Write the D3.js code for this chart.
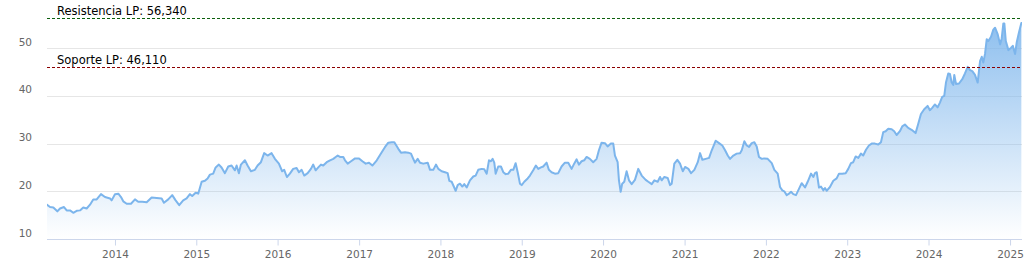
<!DOCTYPE html>
<html>
<head>
<meta charset="utf-8">
<script src="https://cdn.jsdelivr.net/npm/d3@7"></script>
<style>
  html, body { margin: 0; padding: 0; background: #fff; }
  svg { display: block; }
  text { font-family: "DejaVu Sans", Verdana, sans-serif; }
</style>
</head>
<body>
<div id="chart"></div>
<script>
// ---- Data (decimal years) ----
const years = [
  2013.161,2013.201,2013.242,2013.291,2013.324,2013.373,2013.406,2013.447,2013.487,2013.529,
  2013.570,2013.610,2013.652,2013.693,2013.733,2013.775,2013.828,2013.877,2013.939,2013.959,
  2014.000,2014.041,2014.074,2014.102,2014.144,2014.197,2014.246,2014.286,2014.336,2014.390,
  2014.451,2014.513,2014.574,2014.602,2014.655,2014.704,2014.746,2014.790,2014.839,2014.881,
  2014.922,2014.950,2014.992,2015.024,2015.066,2015.106,2015.139,2015.168,2015.208,2015.238,
  2015.278,2015.311,2015.352,2015.393,2015.434,2015.475,2015.496,2015.524,2015.549,2015.598,
  2015.631,2015.672,2015.721,2015.754,2015.795,2015.835,2015.877,2015.926,2015.967,2016.016,
  2016.056,2016.081,2016.114,2016.151,2016.191,2016.233,2016.262,2016.295,2016.327,2016.369,
  2016.409,2016.437,2016.467,2016.499,2016.532,2016.560,2016.602,2016.643,2016.683,2016.713,
  2016.737,2016.765,2016.806,2016.827,2016.860,2016.901,2016.950,2016.999,2017.040,2017.081,
  2017.122,2017.163,2017.217,2017.278,2017.319,2017.359,2017.401,2017.433,2017.482,2017.515,
  2017.564,2017.605,2017.638,2017.666,2017.687,2017.720,2017.749,2017.789,2017.843,2017.872,
  2017.912,2017.945,2017.974,2018.015,2018.056,2018.089,2018.109,2018.138,2018.167,2018.187,
  2018.212,2018.240,2018.269,2018.293,2018.323,2018.363,2018.404,2018.433,2018.465,2018.507,
  2018.539,2018.569,2018.597,2018.621,2018.642,2018.662,2018.679,2018.711,2018.744,2018.773,
  2018.802,2018.834,2018.867,2018.896,2018.925,2018.950,2018.978,2018.999,2019.031,2019.073,
  2019.101,2019.141,2019.174,2019.203,2019.236,2019.264,2019.306,2019.334,2019.367,2019.408,
  2019.449,2019.490,2019.531,2019.572,2019.613,2019.645,2019.675,2019.703,2019.736,2019.768,
  2019.798,2019.838,2019.879,2019.921,2019.949,2019.982,2020.023,2020.056,2020.096,2020.125,
  2020.146,2020.179,2020.195,2020.216,2020.235,2020.260,2020.289,2020.318,2020.351,2020.391,
  2020.432,2020.474,2020.523,2020.555,2020.597,2020.629,2020.670,2020.699,2020.719,2020.752,
  2020.793,2020.822,2020.842,2020.874,2020.911,2020.944,2020.978,2021.006,2021.047,2021.080,
  2021.120,2021.162,2021.190,2021.219,2021.260,2021.301,2021.334,2021.383,2021.424,2021.464,
  2021.498,2021.531,2021.559,2021.600,2021.641,2021.682,2021.703,2021.735,2021.764,2021.793,
  2021.826,2021.858,2021.887,2021.915,2021.949,2021.981,2022.022,2022.072,2022.104,2022.145,
  2022.174,2022.202,2022.226,2022.256,2022.284,2022.309,2022.337,2022.370,2022.398,2022.440,
  2022.481,2022.514,2022.555,2022.583,2022.604,2022.625,2022.653,2022.677,2022.706,2022.727,
  2022.747,2022.788,2022.829,2022.870,2022.899,2022.939,2022.981,2023.013,2023.046,2023.074,
  2023.104,2023.136,2023.169,2023.197,2023.231,2023.267,2023.301,2023.341,2023.382,2023.415,
  2023.443,2023.473,2023.505,2023.547,2023.578,2023.608,2023.648,2023.677,2023.710,2023.750,
  2023.792,2023.841,2023.873,2023.907,2023.947,2023.989,2024.017,2024.045,2024.079,2024.112,
  2024.140,2024.168,2024.193,2024.214,2024.242,2024.263,2024.284,2024.304,2024.316,2024.337,
  2024.374,2024.414,2024.447,2024.481,2024.509,2024.537,2024.570,2024.603,2024.632,2024.653,
  2024.672,2024.693,2024.714,2024.734,2024.767,2024.795,2024.816,2024.849,2024.878,2024.898,
  2024.918,2024.930,2024.948,2024.980,2025.013,2025.034,2025.062,2025.083,2025.111,2025.139
];
const prices = [
  17.2,16.7,16.6,15.8,16.4,16.7,16.0,16.0,15.5,15.9,
  16.0,16.6,16.4,17.2,18.3,18.3,19.4,18.8,18.5,18.1,
  19.4,19.5,18.8,17.9,17.4,17.4,18.3,17.8,17.8,17.7,
  18.7,18.6,18.5,17.6,18.3,19.2,18.1,17.1,18.1,18.5,
  19.4,19.0,19.7,19.5,22.0,22.2,22.7,23.5,23.7,25.0,
  25.6,25.0,23.8,25.2,25.4,24.4,25.4,23.8,25.6,26.5,
  25.4,24.2,24.5,25.4,26.1,28.0,27.5,28.0,26.8,25.8,
  24.2,24.5,23.0,23.7,24.7,24.9,24.0,24.5,23.3,23.8,
  24.7,25.6,24.4,25.0,25.6,25.4,26.1,26.5,26.8,27.2,
  27.5,27.2,27.2,26.5,25.8,26.3,26.9,26.9,26.3,25.8,
  26.0,25.4,26.5,28.2,29.3,30.2,30.3,30.3,28.9,28.1,
  28.2,28.1,27.9,26.8,26.0,26.8,26.0,25.8,26.0,24.5,
  24.5,25.6,24.7,24.2,24.0,23.8,22.2,22.0,20.9,20.1,
  21.3,21.6,21.0,21.5,20.8,22.3,23.1,23.3,24.5,24.7,
  24.6,23.7,26.5,26.3,26.8,26.0,23.7,25.2,25.2,24.0,
  23.6,23.7,24.5,24.5,25.9,24.0,21.6,21.3,22.0,22.7,
  23.3,24.4,25.4,24.7,25.0,25.2,26.0,24.5,24.0,23.7,
  23.8,25.2,26.0,26.0,24.7,25.8,26.7,25.6,26.3,26.5,
  27.2,26.8,26.1,26.8,28.6,30.2,30.1,29.4,30.0,30.0,
  27.5,26.1,22.3,19.9,21.6,22.0,24.2,22.3,21.5,22.4,
  24.7,23.3,22.4,22.0,21.5,22.3,22.0,23.0,22.3,23.0,
  22.8,21.3,21.6,25.8,26.6,25.8,24.2,25.1,24.7,23.8,
  24.5,26.1,28.0,26.6,26.8,27.0,28.6,30.6,30.1,29.6,
  28.6,27.5,26.8,27.5,27.9,28.0,28.6,30.5,29.6,29.3,
  30.1,30.3,29.4,27.2,26.8,26.9,26.8,25.9,24.5,23.7,
  20.9,20.2,20.0,19.2,19.5,19.9,19.4,19.2,20.2,21.7,
  20.8,22.0,23.7,23.0,23.8,24.0,20.8,21.0,20.2,20.7,
  20.1,20.9,22.2,22.7,23.7,23.7,23.8,24.7,25.9,26.1,
  27.3,27.0,27.9,27.5,28.7,29.6,30.0,30.0,29.8,30.3,
  32.4,32.6,33.1,33.0,32.6,31.8,32.6,33.6,34.0,33.3,
  32.9,32.2,34.1,36.2,37.2,37.9,37.0,37.5,38.2,37.6,
  38.6,39.8,40.0,42.8,44.7,44.6,42.8,42.3,44.4,42.5,
  42.6,43.5,44.7,46.1,45.4,45.2,44.4,42.8,47.3,48.2,
  47.0,48.8,51.9,51.5,52.4,53.9,54.3,52.9,50.8,52.1,
  55.2,55.2,51.5,49.6,50.1,50.5,48.8,51.3,53.4,55.3
];
const yTicks = [10, 20, 30, 40, 50];
const xTickYears = [2014, 2015, 2016, 2017, 2018, 2019, 2020, 2021, 2022, 2023, 2024, 2025];
const xDomainYears = [2013.164, 2025.147];
const refLines = [
  { label: "Resistencia LP: 56,340", value: 56.34, color: "#0b5e0b" },
  { label: "Soporte LP: 46,110", value: 46.11, color: "#8b0000" }
];

// ---- helpers ----
function yearToDate(yv) {
  const yr = Math.floor(yv);
  const s = new Date(yr, 0, 1).getTime();
  const e = new Date(yr + 1, 0, 1).getTime();
  return new Date(s + (yv - yr) * (e - s));
}
const data = years.map((yv, i) => ({ date: yearToDate(yv), value: prices[i] }));

// ---- layout ----
const W = 1028, H = 273;
const plotLeft = 47, plotRight = 1022, plotTop = 0.5, plotBottom = 239;

const svg = d3.select("#chart").append("svg")
  .attr("width", W).attr("height", H);

const x = d3.scaleTime()
  .domain(xDomainYears.map(yearToDate))
  .range([plotLeft, plotRight]);
const y = d3.scaleLinear().domain([10, 60]).range([plotBottom, plotTop]);

const defs = svg.append("defs");
const grad = defs.append("linearGradient")
  .attr("id", "areaGrad")
  .attr("gradientUnits", "userSpaceOnUse")
  .attr("x1", 0).attr("y1", 0).attr("x2", 0).attr("y2", plotBottom);
grad.append("stop").attr("offset", "0").attr("stop-color", "#7cb5ec").attr("stop-opacity", 0.95);
grad.append("stop").attr("offset", "1").attr("stop-color", "#7cb5ec").attr("stop-opacity", 0.0);

defs.append("clipPath").attr("id", "plotClip")
  .append("rect").attr("x", plotLeft).attr("y", 0)
  .attr("width", plotRight - plotLeft).attr("height", plotBottom);

// gridlines
svg.append("g").selectAll("line")
  .data(yTicks.filter(t => t !== 10))
  .join("line")
  .attr("x1", plotLeft).attr("x2", plotRight)
  .attr("y1", d => Math.round(y(d)) + 0.5)
  .attr("y2", d => Math.round(y(d)) + 0.5)
  .attr("stroke", "#e6e6e6").attr("stroke-width", 1);

// y labels
svg.append("g").selectAll("text")
  .data(yTicks)
  .join("text")
  .attr("x", 32)
  .attr("y", d => y(d) - 2.5)
  .attr("text-anchor", "end")
  .attr("font-size", "10.5px")
  .attr("fill", "#666666")
  .text(d => d);

// area + line
const plot = svg.append("g").attr("clip-path", "url(#plotClip)");
plot.append("path")
  .datum(data)
  .attr("fill", "url(#areaGrad)")
  .attr("d", d3.area().x(d => x(d.date)).y0(plotBottom).y1(d => y(d.value)));
plot.append("path")
  .datum(data)
  .attr("fill", "none")
  .attr("stroke", "#7cb5ec")
  .attr("stroke-width", 2)
  .attr("stroke-linejoin", "round")
  .attr("stroke-linecap", "round")
  .attr("d", d3.line().x(d => x(d.date)).y(d => y(d.value)));

// x axis
const xAxis = d3.axisBottom(x)
  .tickValues(xTickYears.map(yr => new Date(yr, 0, 1)))
  .tickFormat(d3.timeFormat("%Y"))
  .tickSize(6)
  .tickSizeOuter(0);
const gx = svg.append("g")
  .attr("transform", `translate(0,${plotBottom + 0.5})`)
  .call(xAxis);
gx.select(".domain").attr("stroke", "#ccd6eb").attr("d", `M${plotLeft},0H${plotRight}`);
gx.selectAll(".tick line").attr("stroke", "#ccd6eb");
gx.selectAll(".tick text")
  .attr("fill", "#666666")
  .attr("font-size", "10.5px")
  .attr("font-family", "DejaVu Sans, sans-serif")
  .attr("dy", null)
  .attr("y", 18.5);

// reference lines
const refs = svg.append("g");
refLines.forEach(r => {
  const yy = Math.round(y(r.value)) + 0.5;
  refs.append("line")
    .attr("x1", plotLeft).attr("x2", plotRight)
    .attr("y1", yy).attr("y2", yy)
    .attr("stroke", r.color).attr("stroke-width", 1)
    .attr("stroke-dasharray", "3,2");
  refs.append("text")
    .attr("x", 57).attr("y", yy - 4)
    .attr("font-size", "11.5px")
    .attr("fill", "#000")
    .text(r.label);
});
</script>
</body>
</html>
